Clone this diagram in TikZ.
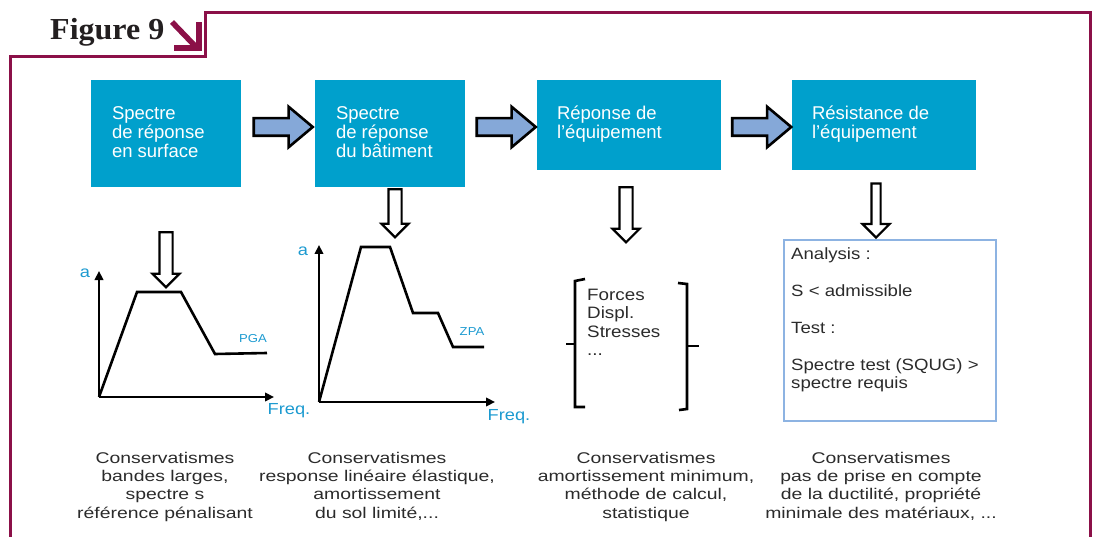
\documentclass[tikz,border=0pt]{standalone}
\usepackage{fontspec}
\setmainfont{Liberation Sans}
\newfontfamily\capfont[FakeStretch=1.25]{Liberation Sans}
\newfontfamily\widefont[FakeStretch=1.14]{Liberation Sans}
\newfontfamily\figfont[FakeStretch=1.05]{Liberation Serif}
\usetikzlibrary{positioning,calc,arrows.meta,shapes.arrows}
\definecolor{framered}{HTML}{8B1048}
\definecolor{boxblue}{HTML}{00A0CC}
\definecolor{arrowblue}{HTML}{85A8D8}
\definecolor{labelblue}{HTML}{1C9AD0}
\definecolor{reqblue}{HTML}{8DB3E2}
\definecolor{figgray}{HTML}{231F20}
\definecolor{captgray}{HTML}{2B2B2B}

\begin{document}
\begin{tikzpicture}[
    x=1pt, y=-1pt,
    stage/.style={fill=boxblue, inner sep=0pt},
    stagetext/.style={
        text=white,
        align=left,
        anchor=base west,
        inner sep=0pt,
        font=\fontsize{18.5}{19}\selectfont
    },
    flowarrow/.style={
        single arrow,
        draw=black,
        fill=arrowblue,
        line width=2.6pt,
        inner xsep=0pt,
        inner ysep=7.5pt,
        minimum width=0pt,
        minimum height=59pt,
        single arrow head extend=11.5pt,
        single arrow tip angle=80
    },
    downflow/.style={
        single arrow,
        draw=black,
        fill=white,
        line width=2.2pt,
        rotate=-90,
        inner xsep=0pt,
        inner ysep=5.5pt,
        minimum width=0pt,
        single arrow head extend=7pt,
        single arrow tip angle=90
    },
    axis/.style={line width=2.6pt, -{Triangle[length=9pt,width=8.5pt]}},
    spectrum/.style={line width=2.6pt, line join=miter},
    brack/.style={line width=2.6pt},
    axislabel/.style={text=labelblue, inner sep=0pt, font=\widefont\fontsize{16}{16}\selectfont},
    levellabel/.style={text=labelblue, inner sep=0pt, font=\widefont\fontsize{11.5}{12}\selectfont},
    listtext/.style={
        align=left,
        anchor=base west,
        inner sep=0pt,
        text=captgray,
        font=\widefont\fontsize{16.5}{18.5}\selectfont
    },
    caption/.style={
        align=center,
        anchor=base,
        inner sep=0pt,
        text=captgray,
        font=\capfont\fontsize{15.5}{18.4}\selectfont
    }
]
\useasboundingbox (0,0) rectangle (1094,537);

% cadre
\draw[framered, line width=3pt] (10,540) -- (10,57) -- (205,57) -- (205,13) -- (1090,13) -- (1090,540);
\node[anchor=base west, inner sep=0pt, text=figgray, font=\figfont\bfseries\fontsize{30.5}{30.5}\selectfont] (fig) at (50,39.5) {Figure 9};
\draw[framered, line width=5.5pt] (172,22) -- (197,48);
\draw[framered, line width=5.5pt] (174,48) -- (199,48) -- (199,22);

% etapes
\node[stage, minimum width=150pt, minimum height=107pt] (s1) at (166,133.5) {};
\node[stage, minimum width=150pt, minimum height=107pt] (s2) at (390,133.5) {};
\node[stage, minimum width=184pt, minimum height=90pt] (s3) at (629,125) {};
\node[stage, minimum width=184pt, minimum height=90pt] (s4) at (884,125) {};
\node[stagetext] (t1) at ([xshift=21pt,yshift=-78pt]s1.north west) {Spectre\\de réponse\\en surface};
\node[stagetext] (t2) at ([xshift=21pt,yshift=-78pt]s2.north west) {Spectre\\de réponse\\du bâtiment};
\node[stagetext] (t3) at ([xshift=20pt,yshift=-59pt]s3.north west) {Réponse de\\l’équipement};
\node[stagetext] (t4) at ([xshift=20pt,yshift=-59pt]s4.north west) {Résistance de\\l’équipement};

\coordinate (ay) at (0,127);
\path ($(s1.east)!.5!(s2.west)$) coordinate (m12)
      ($(s2.east)!.5!(s3.west)$) coordinate (m23)
      ($(s3.east)!.5!(s4.west)$) coordinate (m34);
\node[flowarrow] (a12) at (m12 |- ay) {};
\node[flowarrow] (a23) at (m23 |- ay) {};
\node[flowarrow] (a34) at (m34 |- ay) {};

% fleches vers le bas
\node[downflow, minimum height=55pt] (d1) at (166,256.5) {};
\node[downflow, minimum height=48pt, anchor=tail] (d2) at ([xshift=5pt,yshift=-1pt]s2.south) {};
\node[downflow, minimum height=55pt] (d3) at (626,211.5) {};

% spectre en surface
\coordinate (o1) at (99,397);
\draw[axis] (o1) -- (99,271);
\draw[axis] (o1) -- (274,397);
\draw[spectrum] (o1) -- (137,292) -- (181,292) -- (215,354) -- (267,353);
\node[axislabel] (a1) at (85,273) {a};
\node[levellabel] (pga) at (253,339) {PGA};
\node[axislabel] (f1) at (289,411) {Freq.};

% spectre du batiment
\coordinate (o2) at (319,402);
\draw[axis] (o2) -- (319,245);
\draw[axis] (o2) -- (495,402);
\draw[spectrum] (o2) -- (361,247) -- (390,247) -- (413,313) -- (438,313) -- (453,347) -- (484,347);
\node[axislabel] (a2) at (303,251) {a};
\node[levellabel] (zpa) at (472,332) {ZPA};
\node[axislabel] (f2) at (509,417) {Freq.};

% reponse
\draw[brack] (585,279) -- (575,281) -- (575,407) -- (585,407);
\draw[brack] (566,344) -- (575,344);
\draw[brack] (678,283) -- (687,284) -- (687,409) -- (679,410);
\draw[brack] (687,346) -- (699,346);
\node[listtext] (resp) at (587,355.5) {Forces\\Displ.\\Stresses\\...};

% resistance
\node[draw=reqblue, line width=1.8pt, minimum width=212pt, minimum height=181pt, inner sep=0pt] (req) at (890,330.5) {};
\node[downflow, anchor=tip, minimum height=54pt, inner ysep=3.5pt, single arrow head extend=9pt] (d4) at ([xshift=-14pt]req.north) {};
\node[listtext, font=\widefont\fontsize{16.3}{18.5}\selectfont] (crit) at (791,388.5)
    {Analysis :\\[18.5pt]S < admissible\\[18.5pt]Test :\\[18.5pt]Spectre test (SQUG) >\\spectre requis};

% conservatismes
\node[caption] (c1) at (165,518.2) {Conservatismes\\bandes larges,\\spectre s\\référence pénalisant};
\node[caption] (c2) at (377,518.2) {Conservatismes\\response linéaire élastique,\\amortissement\\du sol limité,...};
\node[caption] (c3) at (646,518.2) {Conservatismes\\amortissement minimum,\\méthode de calcul,\\statistique};
\node[caption] (c4) at (881,518.2) {Conservatismes\\pas de prise en compte\\de la ductilité, propriété\\minimale des matériaux, ...};
\end{tikzpicture}
\end{document}
